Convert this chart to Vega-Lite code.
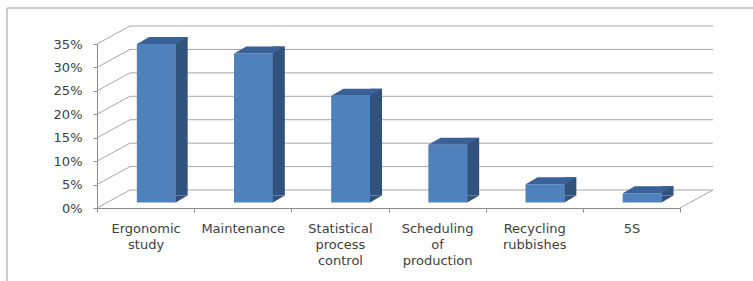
{
  "$schema": "https://vega.github.io/schema/vega-lite/v6.json",
  "width": 583,
  "height": 164,
  "autosize": "none",
  "padding": {"left": 97, "top": 44, "right": 73, "bottom": 73},
  "background": "#ffffff",
  "datasets": {
    "bars": [
      {"category": "Ergonomic study", "value": 0.338},
      {"category": "Maintenance", "value": 0.318},
      {"category": "Statistical process control", "value": 0.228},
      {"category": "Scheduling of production", "value": 0.123},
      {"category": "Recycling rubbishes", "value": 0.039},
      {"category": "5S", "value": 0.02}
    ],
    "ticks": [
      {"t": 0}, {"t": 0.05}, {"t": 0.1}, {"t": 0.15},
      {"t": 0.2}, {"t": 0.25}, {"t": 0.3}, {"t": 0.35}
    ],
    "one": [{"k": 1}]
  },
  "layer": [
    {
      "data": {"name": "one"},
      "mark": {"type": "point", "shape": "M -138.6 246 L -138.6 -36 L 620 -36", "size": 4, "filled": false, "stroke": "#9a9a9a", "strokeWidth": 1, "opacity": 1},
      "encoding": {
        "x": {"datum": "Ergonomic study", "type": "nominal", "title": null,
              "scale": {"type": "band", "paddingInner": 0, "paddingOuter": 0, "domain": ["Ergonomic study", "Maintenance", "Statistical process control", "Scheduling of production", "Recycling rubbishes", "5S"]},
              "axis": {"labelExpr": "split(datum.label, ' ')", "tickBand": "extent", "labelAngle": 0, "labelAlign": "center", "labelPadding": 10, "labelLineHeight": 16, "labelOverlap": false}},
        "y": {"datum": 0.35, "type": "quantitative", "title": null, "scale": {"domain": [0, 0.35], "nice": false},
              "axis": {"values": [0, 0.05, 0.1, 0.15, 0.2, 0.25, 0.3, 0.35], "format": ".0%", "labelPadding": 11, "tickCount": 8}}
      }
    },
    {
      "data": {"name": "ticks"},
      "mark": {"type": "point", "shape": "M -48.58 0 L -15.58 -18 L 567.42 -18", "size": 4, "filled": false, "stroke": "#a6a6a6", "strokeWidth": 1, "opacity": 1},
      "encoding": {
        "x": {"datum": "Ergonomic study", "type": "nominal", "title": null},
        "y": {"field": "t", "type": "quantitative", "title": null}
      }
    },
    {
      "data": {"name": "one"},
      "mark": {"type": "point", "shape": "M 48.58 0 L 81.58 -18", "size": 4, "filled": false, "stroke": "#a6a6a6", "strokeWidth": 1, "opacity": 1},
      "encoding": {
        "x": {"datum": "5S", "type": "nominal", "title": null},
        "y": {"datum": 0, "type": "quantitative", "title": null}
      }
    },
    {
      "data": {"name": "bars"},
      "mark": {"type": "bar", "width": 39, "xOffset": 10.75, "yOffset": -5.5, "y2Offset": -5.5, "color": "#4f81bd"},
      "encoding": {
        "x": {"field": "category", "type": "nominal", "sort": null, "title": null,
              "axis": {"labelExpr": "split(datum.label, ' ')", "tickBand": "extent", "labelAngle": 0, "labelAlign": "center", "labelPadding": 10, "labelLineHeight": 16, "labelOverlap": false}},
        "y": {"field": "value", "type": "quantitative", "title": null,
              "axis": {"values": [0, 0.05, 0.1, 0.15, 0.2, 0.25, 0.3, 0.35], "format": ".0%", "labelPadding": 11, "tickCount": 8}}
      }
    },
    {
      "data": {"name": "bars"},
      "mark": {"type": "bar", "width": 12, "xOffset": 36.1, "yOffset": -12.5, "y2Offset": -12.5, "color": "#31527c"},
      "encoding": {
        "x": {"field": "category", "type": "nominal", "sort": null, "title": null},
        "y": {"field": "value", "type": "quantitative", "title": null}
      }
    },
    {
      "data": {"name": "bars"},
      "mark": {"type": "point", "shape": "M 30.1 -12.5 L 42.1 -12.5 L 30.1 -5.5 Z", "size": 4, "filled": true, "fill": "#31527c", "strokeWidth": 0, "opacity": 1},
      "encoding": {
        "x": {"field": "category", "type": "nominal", "sort": null, "title": null},
        "y": {"datum": 0, "type": "quantitative", "title": null}
      }
    },
    {
      "data": {"name": "bars"},
      "mark": {"type": "point", "shape": "M -8.6 -5.5 L 30.1 -5.5 L 42.1 -12.5 L 3.4 -12.5 Z", "size": 4, "filled": true, "fill": "#3a6298", "strokeWidth": 0, "opacity": 1},
      "encoding": {
        "x": {"field": "category", "type": "nominal", "sort": null, "title": null},
        "y": {"field": "value", "type": "quantitative", "title": null}
      }
    }
  ],
  "config": {
    "view": {"stroke": null},
    "axis": {
      "grid": false,
      "domainColor": "#8c8c8c",
      "tickColor": "#8c8c8c",
      "tickSize": 4,
      "labelFont": "DejaVu Sans",
      "labelFontSize": 13,
      "labelColor": "#404040"
    },
    "axisY": {"tickCount": 8},
    "axisX": {"labelAlign": "center"}
  }
}
